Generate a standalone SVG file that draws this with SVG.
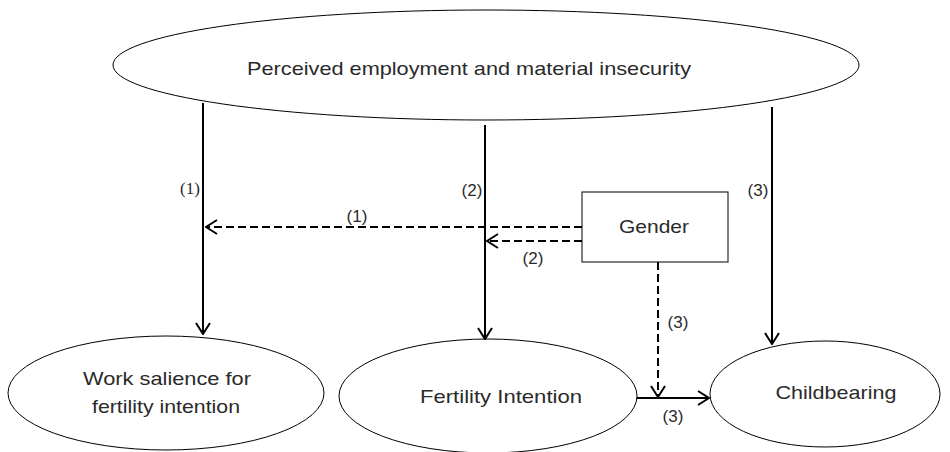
<svg xmlns="http://www.w3.org/2000/svg" width="950" height="452" viewBox="0 0 950 452">
<defs>
<style>
.node{fill:#fff;stroke:#000;stroke-width:1}
.t{font-family:"Liberation Sans",Arial,sans-serif;font-size:19px;fill:#2a2a2a;text-anchor:middle}
.lab{font-family:"Liberation Sans",Arial,sans-serif;font-size:17px;fill:#2a2a2a;text-anchor:middle}
.ser{font-family:"Liberation Serif","Times New Roman",serif;font-size:17px;fill:#2a2a2a;text-anchor:middle}
.solid{stroke:#000;stroke-width:2;fill:none}
.dash{stroke:#000;stroke-width:2;fill:none;stroke-dasharray:8 4}
</style>
<marker id="ah" viewBox="0 0 13 16" refX="12" refY="8" markerWidth="13" markerHeight="16" markerUnits="userSpaceOnUse" orient="auto">
<path d="M1,1 L12,8 L1,15" fill="none" stroke="#000" stroke-width="2"/>
</marker>
</defs>
<rect width="950" height="452" fill="#fff"/>
<g id="node-insecurity">
<ellipse class="node" cx="486" cy="65" rx="373" ry="55"/>
<text class="t" x="469" y="75" textLength="444" lengthAdjust="spacingAndGlyphs">Perceived employment and material insecurity</text>
</g>
<g id="node-gender">
<rect class="node" x="582" y="192" width="146" height="70"/>
<text class="t" x="654" y="233" textLength="70" lengthAdjust="spacingAndGlyphs">Gender</text>
</g>
<g id="node-work">
<ellipse class="node" cx="166" cy="393" rx="158" ry="57"/>
<text class="t" x="167" y="385" textLength="168" lengthAdjust="spacingAndGlyphs">Work salience for</text>
<text class="t" x="166" y="413" textLength="148" lengthAdjust="spacingAndGlyphs">fertility intention</text>
</g>
<g id="node-fertility">
<ellipse class="node" cx="488" cy="396" rx="149" ry="57"/>
<text class="t" x="501" y="403" textLength="162" lengthAdjust="spacingAndGlyphs">Fertility Intention</text>
</g>
<g id="node-childbearing">
<ellipse class="node" cx="825" cy="394" rx="115" ry="53"/>
<text class="t" x="836" y="399" textLength="121" lengthAdjust="spacingAndGlyphs">Childbearing</text>
</g>
<g id="connectors">
<line class="solid" x1="203" y1="103" x2="203" y2="334" marker-end="url(#ah)"/>
<line class="solid" x1="485" y1="125" x2="485" y2="339" marker-end="url(#ah)"/>
<line class="solid" x1="772" y1="107" x2="772" y2="344" marker-end="url(#ah)"/>
<line class="dash" x1="582" y1="227" x2="206" y2="227" marker-end="url(#ah)"/>
<line class="dash" x1="582" y1="241" x2="487" y2="241" marker-end="url(#ah)"/>
<line class="dash" x1="658" y1="262" x2="658" y2="397" marker-end="url(#ah)"/>
<line class="solid" x1="637" y1="398" x2="709" y2="398" marker-end="url(#ah)"/>
<text class="ser" x="190" y="194">(1)</text>
<text class="lab" x="357" y="222">(1)</text>
<text class="lab" x="472" y="196">(2)</text>
<text class="lab" x="533" y="264">(2)</text>
<text class="lab" x="758" y="196">(3)</text>
<text class="lab" x="678" y="328">(3)</text>
<text class="lab" x="673" y="422">(3)</text>
</g>
</svg>
